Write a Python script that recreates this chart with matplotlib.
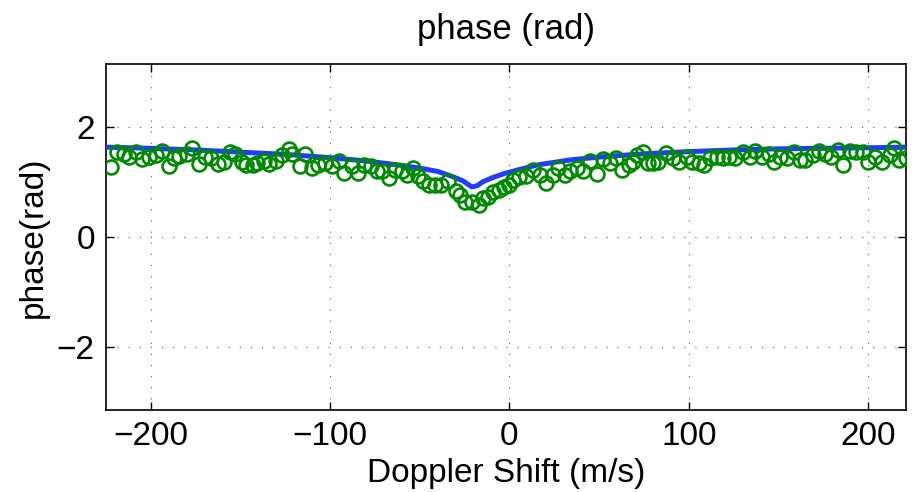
import matplotlib
matplotlib.use('Agg')
import matplotlib.pyplot as plt

plt.rcParams['font.family'] = ['Liberation Sans', 'DejaVu Sans']

doppler = [-222, -219, -215, -212, -208, -205, -201, -197, -194, -190, -187, -184,
           -180, -177, -173, -170, -166.5, -162.5, -159, -156, -153, -149, -147,
           -143, -140.5, -137, -134, -130, -127, -123, -121, -117, -114, -110,
           -107, -103, -99, -95, -92, -88, -84.5, -81, -77, -74, -71, -67, -64,
           -60, -57, -54, -51, -48, -45, -41.5, -38, -34, -30, -27.5, -25, -21,
           -17, -14.5, -12, -9, -6, -3, -0.5, 2, 5.5, 9, 13, 17, 20.5, 24.5, 27,
           31, 34, 37.5, 41, 45, 49, 52, 56, 59.5, 63, 66.5, 69, 71, 74.5, 77,
           80, 83, 87.5, 91, 94.5, 99, 102, 105.5, 108.5, 112, 115.5, 119, 122.5,
           126, 130, 134, 137, 141, 144.5, 147.5, 151, 155, 158.5, 162, 165, 169,
           172.5, 176, 179.5, 183, 186, 190, 193, 197, 200, 204, 208, 212, 214.5,
           217, 221]
phase = [1.27, 1.55, 1.50, 1.46, 1.54, 1.41, 1.46, 1.48, 1.56, 1.29, 1.43, 1.47,
         1.50, 1.62, 1.32, 1.45, 1.43, 1.32, 1.37, 1.55, 1.50, 1.37, 1.31,
         1.30, 1.35, 1.38, 1.33, 1.38, 1.49, 1.59, 1.51, 1.28, 1.50, 1.25,
         1.31, 1.34, 1.28, 1.38, 1.16, 1.28, 1.16, 1.31, 1.28, 1.20, 1.19, 1.07, 1.21,
         1.19, 1.13, 1.25, 1.10, 1.01, 0.95, 0.95, 0.95, 1.01, 0.84, 0.76, 0.63, 0.63,
         0.58, 0.70, 0.73, 0.82, 0.85, 0.90, 0.95, 1.04, 1.08, 1.10, 1.22, 1.13, 0.98, 1.13, 1.26,
         1.13, 1.19, 1.25, 1.19, 1.38, 1.14, 1.42, 1.34, 1.43, 1.22, 1.31, 1.37, 1.48, 1.55, 1.34,
         1.34, 1.37, 1.52, 1.43, 1.37, 1.46, 1.37, 1.34, 1.31, 1.43, 1.46, 1.43, 1.46,
         1.43, 1.54, 1.46, 1.56, 1.46, 1.50, 1.37, 1.46, 1.43, 1.55, 1.40, 1.40, 1.48,
         1.56, 1.50, 1.46, 1.58, 1.31, 1.56, 1.55, 1.55, 1.37, 1.46, 1.37, 1.48, 1.61,
         1.40, 1.43]

# model curve (blue line)
model_x = [-225, -200, -175, -150, -125, -100, -80, -60, -50, -40, -32, -26, -21,
           -18, -15, -10, -3, 5, 16, 34, 53, 75, 100, 125, 150, 175, 200, 221]
model_y = [1.63, 1.61, 1.58, 1.54, 1.50, 1.44, 1.38, 1.30, 1.25, 1.19, 1.10, 1.02, 0.91,
           0.93, 1.00, 1.07, 1.15, 1.22, 1.31, 1.40, 1.46, 1.51, 1.55, 1.58, 1.60, 1.61, 1.62, 1.63]

fig = plt.figure(figsize=(9.21, 4.92), dpi=100)
ax = fig.add_axes([0.115, 0.1667, 0.8685, 0.7033])

ax.plot(model_x, model_y, color='#1f3dff', lw=3.6, zorder=3)
ax.plot(doppler, phase, 'o', mfc='none', mec='#008a00', mew=1.9, ms=10, zorder=4)

ax.set_xlim(-225, 221)
ax.set_ylim(-3.1416, 3.1416)
ax.set_xticks([-200, -100, 0, 100, 200])
ax.set_yticks([-2, 0, 2])
ax.set_xticklabels(['\u2212200', '\u2212100', '0', '100', '200'])
ax.set_yticklabels(['\u22122', '0', '2'])

# matlab style dotted grid, ticks inside on all sides
ax.grid(True, color='0.35', linestyle=(0, (1, 9)), lw=0.8)
ax.tick_params(direction='in', length=6, width=1, top=True, right=True,
               labelsize=24, pad=8)
for s in ax.spines.values():
    s.set_linewidth(1.2)

ax.set_title('phase (rad)', fontsize=25, pad=18)
ax.set_xlabel('Doppler Shift (m/s)', fontsize=24, labelpad=4)
ax.set_ylabel('phase(rad)', fontsize=24, labelpad=6)

fig.savefig('out.png', dpi=100)
